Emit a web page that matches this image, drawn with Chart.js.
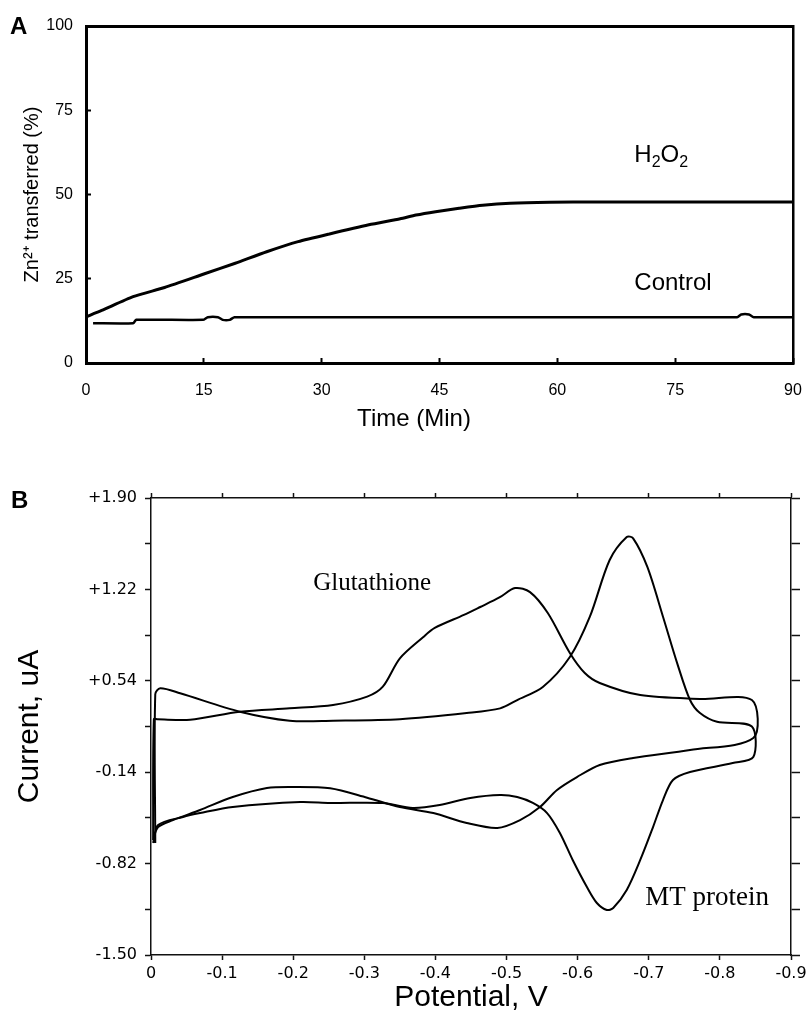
<!DOCTYPE html>
<html><head><meta charset="utf-8">
<script src="https://cdn.jsdelivr.net/npm/chart.js@4.4.1/dist/chart.umd.min.js"></script>
<style>
html,body{margin:0;padding:0;background:#fff;width:809px;height:1013px;overflow:hidden}
canvas{position:absolute;left:0}
#ca{top:0}
#cb{top:440px}
</style></head><body>
<canvas id="ca" width="809" height="440"></canvas>
<canvas id="cb" width="809" height="573"></canvas>
<script>
// ---------- Panel A data ----------
const timeTicks = [0, 15, 30, 45, 60, 75, 90];
const pctTicks = [0, 25, 50, 75, 100];
const h2o2Time = [0, 2, 6, 10, 15, 19, 23, 27, 31, 36, 40, 42, 44.5, 47.5, 50.5, 54, 59, 65, 75, 90];
const h2o2Pct  = [13.7, 15.6, 19.7, 22.4, 26.4, 29.6, 33.0, 36.0, 38.3, 41.0, 42.8, 43.9, 44.9, 45.9, 46.8, 47.4, 47.7, 47.8, 47.8, 47.8];
const controlTime = [0.9, 6.0, 6.4, 14.9, 15.5, 16.8, 17.4, 18.3, 18.9, 82.9, 83.4, 84.4, 85.0, 90];
const controlPct  = [11.8, 11.8, 12.8, 12.8, 13.6, 13.6, 12.8, 12.8, 13.6, 13.6, 14.4, 14.4, 13.6, 13.6];

// ---------- Panel B data ----------
const potentialTicks = [0, -0.1, -0.2, -0.3, -0.4, -0.5, -0.6, -0.7, -0.8, -0.9];
const potentialTickLabels = ['0', '-0.1', '-0.2', '-0.3', '-0.4', '-0.5', '-0.6', '-0.7', '-0.8', '-0.9'];
const currentTicks = [-1.50, -1.16, -0.82, -0.48, -0.14, 0.20, 0.54, 0.88, 1.22, 1.56, 1.90];
const currentTickLabels = ['-1.50', '', '-0.82', '', '-0.14', '', '+0.54', '', '+1.22', '', '+1.90'];
const glutPotential = [-0.003, -0.004, -0.009, -0.055, -0.125, -0.195, -0.256, -0.304, -0.326, -0.350, -0.383, -0.399, -0.440, -0.463, -0.490, -0.512, -0.533, -0.558, -0.589, -0.610, -0.631, -0.688, -0.772, -0.845, -0.847, -0.758, -0.678, -0.631, -0.599, -0.571, -0.547, -0.519, -0.487, -0.444, -0.397, -0.350, -0.304, -0.252, -0.200, -0.163, -0.115, -0.069, -0.031, -0.010, -0.003];
const glutCurrent   = [-0.644, 0.254, 0.254, 0.250, 0.310, 0.335, 0.360, 0.422, 0.496, 0.707, 0.866, 0.933, 1.030, 1.089, 1.160, 1.230, 1.200, 1.044, 0.747, 0.598, 0.524, 0.434, 0.405, 0.397, 0.114, 0.025, -0.034, -0.086, -0.176, -0.272, -0.399, -0.496, -0.555, -0.518, -0.444, -0.399, -0.330, -0.260, -0.250, -0.258, -0.325, -0.421, -0.496, -0.548, -0.644];
const mtPotential = [-0.006, -0.006, -0.013, -0.041, -0.125, -0.195, -0.256, -0.350, -0.444, -0.491, -0.515, -0.551, -0.589, -0.617, -0.645, -0.669, -0.678, -0.698, -0.720, -0.740, -0.758, -0.772, -0.796, -0.845, -0.847, -0.818, -0.758, -0.734, -0.720, -0.706, -0.688, -0.669, -0.650, -0.641, -0.627, -0.613, -0.593, -0.575, -0.557, -0.537, -0.515, -0.491, -0.449, -0.406, -0.368, -0.326, -0.252, -0.210, -0.115, -0.069, -0.045, -0.010, -0.003];
const mtCurrent   = [-0.667, 0.44, 0.484, 0.447, 0.310, 0.243, 0.243, 0.254, 0.300, 0.335, 0.397, 0.494, 0.717, 1.015, 1.439, 1.610, 1.600, 1.387, 1.017, 0.670, 0.397, 0.300, 0.235, 0.200, -0.027, -0.072, -0.139, -0.198, -0.347, -0.548, -0.793, -1.016, -1.150, -1.165, -1.113, -0.994, -0.793, -0.592, -0.444, -0.369, -0.325, -0.310, -0.332, -0.384, -0.406, -0.369, -0.369, -0.362, -0.399, -0.444, -0.473, -0.533, -0.667];

const pts = (xs, ys) => xs.map((x, i) => ({x: x, y: ys[i]}));
const setTicks = (vals) => (s) => { s.ticks = vals.map(v => ({value: v})); };
const fixH = (h) => (s) => { s.height = h; s.paddingLeft = 0; s.paddingRight = 0; };
const fixW = (w) => (s) => { s.width = w; s.paddingTop = 0; s.paddingBottom = 0; };

const SANS = '"Liberation Sans", Arial, sans-serif';

const textPlugin = {
  id: 'texts',
  afterDraw(chart, args, opts) {
    const ctx = chart.ctx;
    (opts.items || []).forEach(it => {
      ctx.save();
      ctx.fillStyle = '#000';
      ctx.textAlign = it.align || 'left';
      ctx.textBaseline = it.baseline || 'alphabetic';
      let x = it.px !== undefined ? it.px : chart.scales.x.getPixelForValue(it.x);
      let y = it.py !== undefined ? it.py : chart.scales.y.getPixelForValue(it.y);
      if (it.parts) {
        it.parts.forEach(p => {
          ctx.font = p[1];
          ctx.fillText(p[0], x, y + p[2]);
          x += ctx.measureText(p[0]).width;
        });
      } else {
        ctx.font = it.font;
        ctx.fillText(it.text, x, y);
      }
      ctx.restore();
    });
  }
};

// ---------- Chart A ----------
new Chart(document.getElementById('ca'), {
  type: 'scatter',
  data: {
    datasets: [
      {data: pts(h2o2Time, h2o2Pct), showLine: true, borderColor: '#000', borderWidth: 3, pointRadius: 0, tension: 0.2},
      {data: pts(controlTime, controlPct), showLine: true, borderColor: '#000', borderWidth: 2.5, pointRadius: 0, tension: 0.2}
    ]
  },
  options: {
    responsive: false, animation: false, devicePixelRatio: 1,
    layout: {padding: 0},
    plugins: {
      legend: {display: false}, tooltip: {enabled: false},
      texts: {items: [
        {parts: [['H', '24px ' + SANS, 0], ['2', '16px ' + SANS, 5], ['O', '24px ' + SANS, 0], ['2', '16px ' + SANS, 5]], x: 69.8, y: 59.6},
        {text: 'Control', font: '24px ' + SANS, x: 69.8, y: 21.7},
        {text: 'A', font: 'bold 24px ' + SANS, px: 10, py: 34},
        {text: 'Time (Min)', font: '24px ' + SANS, px: 414, py: 419, align: 'center', baseline: 'middle'}
      ]}
    },
    scales: {
      x: {
        type: 'linear', position: 'bottom', min: 0, max: 90,
        afterBuildTicks: setTicks(timeTicks),
        afterFit: fixH(77),
        ticks: {autoSkip: false, maxRotation: 0, color: '#000', font: {family: SANS, size: 16}, padding: 23},
        grid: {drawOnChartArea: false, drawTicks: true, tickLength: -5, tickWidth: 2, tickColor: '#000', color: '#000'},
        border: {display: true, color: '#000', width: 3}
      },
      y: {
        type: 'linear', position: 'left', min: 0, max: 100,
        afterBuildTicks: setTicks(pctTicks),
        afterFit: fixW(86),
        ticks: {autoSkip: false, color: '#000', font: {family: SANS, size: 16}, padding: 18},
        grid: {drawOnChartArea: false, drawTicks: true, tickLength: -5, tickWidth: 2, tickColor: '#000', color: '#000'},
        border: {display: true, color: '#000', width: 3},
        title: {display: true, text: 'Zn²⁺ transferred (%)', color: '#000', font: {family: SANS, size: 20}, padding: {top: 20}}
      },
      x2: {
        type: 'linear', position: 'top', min: 0, max: 90,
        afterFit: fixH(26),
        ticks: {display: false}, grid: {display: false},
        border: {display: true, color: '#000', width: 3}
      },
      y2: {
        type: 'linear', position: 'right', min: 0, max: 100,
        afterFit: fixW(16),
        ticks: {display: false}, grid: {display: false},
        border: {display: true, color: '#000', width: 2.5}
      }
    }
  },
  plugins: [textPlugin]
});

// ---------- Chart B ----------
const tickFontB = {family: '"DejaVu Sans", sans-serif', size: 16};
new Chart(document.getElementById('cb'), {
  type: 'scatter',
  data: {
    datasets: [
      {data: pts(glutPotential, glutCurrent), showLine: true, borderColor: '#000', borderWidth: 2, pointRadius: 0, tension: 0.3},
      {data: pts(mtPotential, mtCurrent), showLine: true, borderColor: '#000', borderWidth: 2, pointRadius: 0, tension: 0.3}
    ]
  },
  options: {
    responsive: false, animation: false, devicePixelRatio: 1,
    layout: {padding: 0},
    plugins: {
      legend: {display: false}, tooltip: {enabled: false},
      texts: {items: [
        {text: 'Glutathione', font: '25px "Liberation Serif", "Times New Roman", serif', x: -0.228, y: 1.216},
        {text: 'MT protein', font: '27px "Liberation Serif", "Times New Roman", serif', x: -0.695, y: -1.128},
        {text: 'B', font: 'bold 24px ' + SANS, px: 11, py: 68}
      ]}
    },
    scales: {
      x: {
        type: 'linear', position: 'bottom', min: -0.9, max: 0, reverse: true,
        afterBuildTicks: setTicks(potentialTicks),
        afterFit: fixH(58),
        ticks: {autoSkip: false, maxRotation: 0, color: '#000', font: tickFontB, padding: 4,
                callback: (v, i) => potentialTickLabels[i]},
        grid: {drawOnChartArea: false, drawTicks: true, tickLength: 5, tickWidth: 1.5, tickColor: '#111'},
        border: {display: true, color: '#111', width: 1.5},
        title: {display: true, text: 'Potential, V', color: '#000', font: {family: SANS, size: 30, lineHeight: 1}, padding: {bottom: 0}}
      },
      y: {
        type: 'linear', position: 'left', min: -1.5, max: 1.9,
        afterBuildTicks: setTicks(currentTicks),
        afterFit: fixW(151),
        ticks: {autoSkip: false, color: '#000', font: tickFontB, padding: 8,
                callback: (v, i) => currentTickLabels[i]},
        grid: {drawOnChartArea: false, drawTicks: true, tickLength: 6, tickWidth: 1.5, tickColor: '#111'},
        border: {display: true, color: '#111', width: 1.5},
        title: {display: true, text: 'Current, uA', color: '#000', font: {family: SANS, size: 30, lineHeight: 1}, padding: {top: 15}}
      },
      x2: {
        type: 'linear', position: 'top', min: -0.9, max: 0, reverse: true,
        afterBuildTicks: setTicks(potentialTicks),
        afterFit: fixH(58),
        ticks: {display: false},
        grid: {drawOnChartArea: false, drawTicks: true, tickLength: 5, tickWidth: 1.5, tickColor: '#111'},
        border: {display: true, color: '#111', width: 1.5}
      },
      y2: {
        type: 'linear', position: 'right', min: -1.5, max: 1.9,
        afterBuildTicks: setTicks(currentTicks),
        afterFit: fixW(18),
        ticks: {display: false},
        grid: {drawOnChartArea: false, drawTicks: true, tickLength: 9, tickWidth: 1.5, tickColor: '#111'},
        border: {display: true, color: '#111', width: 1.5}
      }
    }
  },
  plugins: [textPlugin]
});
</script>
</body></html>
